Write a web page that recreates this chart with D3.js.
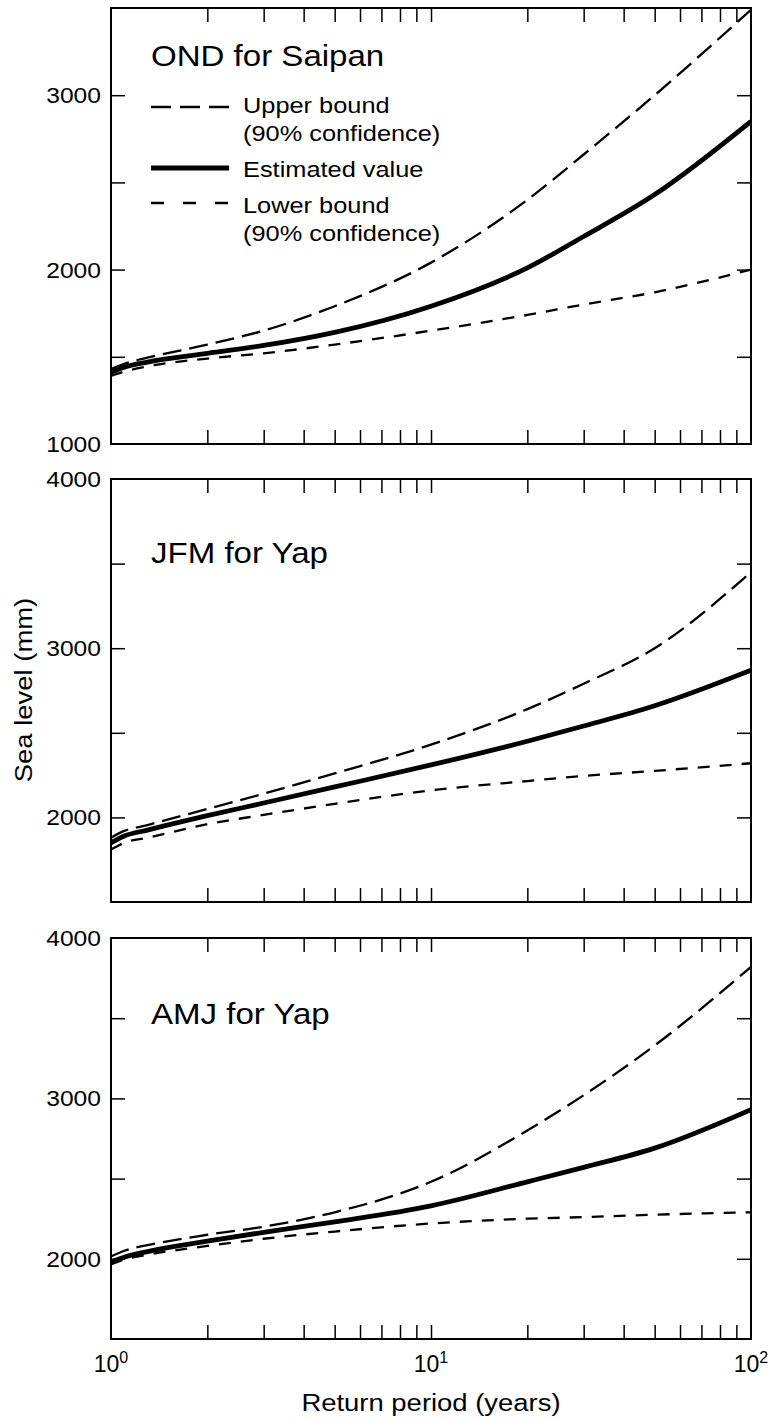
<!DOCTYPE html>
<html><head><meta charset="utf-8">
<script src="https://cdn.jsdelivr.net/npm/d3@7"></script>
<style>body{margin:0;background:#fff}svg{display:block}text{font-family:"Liberation Sans",Arial,Helvetica,sans-serif;fill:#000}</style>
</head><body>
<svg id="chart" width="774" height="1421"></svg>
<script>
// Return periods (years)
const periods = [1, 1.1, 1.3, 2, 3, 5, 10, 20, 30, 50, 100];
// OND for Saipan (mm)
const ondUpper = [1430, 1460, 1495, 1570, 1650, 1790, 2040, 2400, 2660, 3000, 3490];
const ondEstimate = [1410, 1440, 1470, 1520, 1565, 1640, 1790, 2010, 2190, 2430, 2850];
const ondLower = [1390, 1415, 1445, 1490, 1520, 1570, 1650, 1740, 1800, 1870, 2000];
// JFM for Yap (mm)
const jfmUpper = [1880, 1920, 1955, 2050, 2140, 2260, 2430, 2640, 2790, 3000, 3450];
const jfmEstimate = [1850, 1890, 1925, 2010, 2085, 2180, 2310, 2450, 2540, 2660, 2870];
const jfmLower = [1810, 1850, 1880, 1960, 2015, 2080, 2160, 2215, 2245, 2275, 2320];
// AMJ for Yap (mm)
const amjUpper = [2015, 2050, 2085, 2150, 2200, 2290, 2480, 2800, 3020, 3330, 3820];
const amjEstimate = [1980, 2010, 2045, 2110, 2165, 2230, 2330, 2480, 2570, 2690, 2930];
const amjLower = [1965, 1995, 2025, 2080, 2125, 2170, 2220, 2250, 2260, 2275, 2290];
// Panel titles and axis ticks
const panelTitles = ["OND for Saipan", "JFM for Yap", "AMJ for Yap"];
const yDomains = [[1000, 3500], [1500, 4000], [1500, 4000]];
const yLabelTicks = [[1000, 2000, 3000], [2000, 3000, 4000], [2000, 3000, 4000]];
const yMinorTicks = [[1500, 2000, 2500, 3000], [2000, 2500, 3000, 3500], [2000, 2500, 3000, 3500]];
const xTickExponents = [0, 1, 2];
const legendLabels = [["Upper bound", "(90% confidence)"], ["Estimated value"], ["Lower bound", "(90% confidence)"]];

const panelData = [
  [ondUpper, ondEstimate, ondLower],
  [jfmUpper, jfmEstimate, jfmLower],
  [amjUpper, amjEstimate, amjLower]
];

const svg = d3.select("#chart");
const left = 111, right = 751;
const panels = [
  {top: 8, bottom: 444, titleY: 66},
  {top: 479, bottom: 902, titleY: 563},
  {top: 938, bottom: 1339, titleY: 1024}
];
const styles = [
  {w: 2.3, dash: "19,8"},
  {w: 4.8, dash: null},
  {w: 2.3, dash: "12,10"}
];
const x = d3.scaleLog().domain([1, 100]).range([left, right]);
const xMinor = [];
for (let d = 1; d <= 10; d *= 10) for (let k = 2; k <= 10; k++) if (d * k < 100) xMinor.push(d * k);
const TL = 14;

function stretchedText(sel, tx, ty, size, sx, str, anchor, rot) {
  return sel.append("text")
    .attr("transform", `translate(${tx},${ty})${rot ? " rotate(" + rot + ")" : ""} scale(${sx},1)`)
    .attr("font-size", size)
    .attr("text-anchor", anchor || "start")
    .text(str);
}

panels.forEach((p, i) => {
  const y = d3.scaleLinear().domain(yDomains[i]).range([p.bottom, p.top]);
  const g = svg.append("g");
  const cid = "clip" + i;
  svg.append("clipPath").attr("id", cid).append("rect")
    .attr("x", left).attr("y", p.top).attr("width", right - left).attr("height", p.bottom - p.top);

  // lines
  const line = d3.line().x((d, j) => x(periods[j])).y(d => y(d)).curve(d3.curveMonotoneX);
  panelData[i].forEach((series, s) => {
    g.append("path").datum(series).attr("d", line).attr("fill", "none")
      .attr("stroke", "#000").attr("stroke-width", styles[s].w)
      .attr("stroke-dasharray", styles[s].dash)
      .attr("stroke-linejoin", "round")
      .attr("clip-path", `url(#${cid})`);
  });

  // x ticks top & bottom (inward)
  const axB = d3.axisBottom(x).tickValues(xMinor).tickSize(-TL).tickFormat("");
  const axT = d3.axisTop(x).tickValues(xMinor).tickSize(-TL).tickFormat("");
  g.append("g").attr("transform", `translate(0,${p.bottom})`).call(axB);
  g.append("g").attr("transform", `translate(0,${p.top})`).call(axT);
  // y ticks left & right (inward)
  const axL = d3.axisLeft(y).tickValues(yMinorTicks[i]).tickSize(-TL).tickFormat("");
  const axR = d3.axisRight(y).tickValues(yMinorTicks[i]).tickSize(-TL).tickFormat("");
  g.append("g").attr("transform", `translate(${left},0)`).call(axL);
  g.append("g").attr("transform", `translate(${right},0)`).call(axR);
  g.selectAll(".domain").remove();
  g.selectAll(".tick line").attr("stroke", "#000").attr("stroke-width", 1.5);

  // frame
  g.append("rect").attr("x", left).attr("y", p.top).attr("width", right - left).attr("height", p.bottom - p.top)
    .attr("fill", "none").attr("stroke", "#000").attr("stroke-width", 2);

  // y labels
  yLabelTicks[i].forEach(v => {
    stretchedText(g, left - 10, y(v) + 8, 22, 1.12, v, "end");
  });

  // title
  stretchedText(g, 151, p.titleY, 29, 1.14, panelTitles[i]);

  // legend in first panel
  if (i === 0) {
    const ly = [107, 168, 203];
    const tb = [113, 177, 213];
    legendLabels.forEach((lab, k) => {
      g.append("line").attr("x1", 151).attr("x2", 229).attr("y1", ly[k]).attr("y2", ly[k])
        .attr("stroke", "#000").attr("stroke-width", k === 1 ? 5 : 2.3)
        .attr("stroke-dasharray", k === 0 ? "20,9" : (k === 2 ? "13,19" : null));
      lab.forEach((t, m) => {
        stretchedText(g, 243, tb[k] + m * 27.5, 21.5, 1.18, t);
      });
    });
  }
});

// x tick labels (bottom panel only)
const last = panels[2];
xTickExponents.forEach(e => {
  const t = svg.append("text").attr("x", x(Math.pow(10, e))).attr("y", last.bottom + 33)
    .attr("text-anchor", "middle").attr("font-size", 23);
  t.append("tspan").text("10");
  t.append("tspan").attr("dy", -9).attr("font-size", 16).text(e);
});

// axis titles
stretchedText(svg, 431, 1411, 24.5, 1.12, "Return period (years)", "middle");
stretchedText(svg, 32, 690, 24.5, 1.12, "Sea level (mm)", "middle", -90);
</script>
</body></html>
